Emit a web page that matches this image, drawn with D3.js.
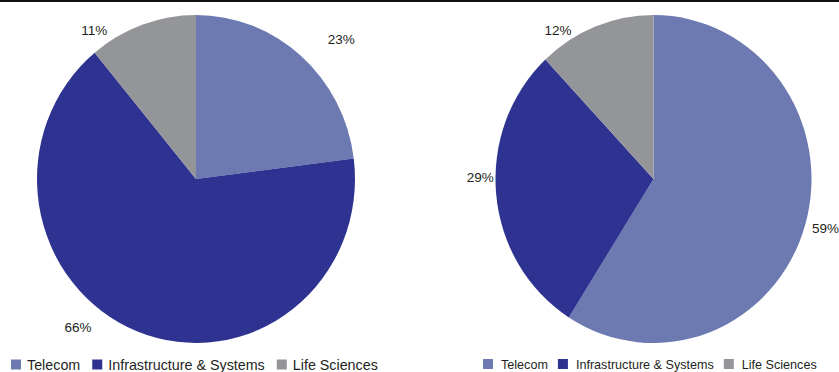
<!DOCTYPE html>
<html>
<head>
<meta charset="utf-8">
<script src="https://cdn.jsdelivr.net/npm/d3@7"></script>
<style>
  body { margin: 0; background: #fff; }
  svg { display: block; font-family: "Liberation Sans", Arial, sans-serif; }
</style>
</head>
<body>
<div id="chart"></div>
<script>
// data
var categories = ["Telecom", "Infrastructure & Systems", "Life Sciences"];
var colors = ["#6c7ab1", "#2e3392", "#939598"];
var leftValues = [23, 66, 11];
var rightValues = [59, 29, 12];

var width = 839,
	height = 372;

var svg = d3.select("#chart").append("svg")
	.attr("width", width)
	.attr("height", height);

// thin rule across the top
svg.append("rect")
	.attr("x", 0).attr("y", 0)
	.attr("width", width).attr("height", 2)
	.attr("fill", "#111");

var color = d3.scaleOrdinal().domain(categories).range(colors);

var pie = d3.pie()
	.sort(null)
	.value(function(d){ return d.value; });

//layout for each of the two pies
var charts = [
	{values: leftValues, cx: 196, cy: 179, rx: 159, ry: 164,
	 nudge: [[27, -1], [-52, -23], [-41, 25]],
	 legend: {x: 11, y: 369.5, size: 14.3, sq: 10, gap: 16, step: 12}},
	{values: rightValues, cx: 653.5, cy: 179, rx: 158, ry: 164,
	 nudge: [[1, -2], [4, -19], [-30, 23]],
	 legend: {x: 483, y: 369, size: 12.6, sq: 10, gap: 18, step: 10}}
];

charts.forEach(function(c){
	var data = categories.map(function(k, i){ return {key: k, value: c.values[i]}; });
	var arcs = pie(data);

	var arc = d3.arc().innerRadius(0).outerRadius(c.rx);

	var g = svg.append("g")
		.attr("transform", "translate(" + c.cx + "," + c.cy + ") scale(1," + (c.ry / c.rx) + ")");

	g.selectAll("path")
		.data(arcs).enter()
		.append("path")
		.attr("d", arc)
		.attr("fill", function(d){ return color(d.data.key); });

	// percent labels just outside the rim
	svg.append("g").selectAll("text")
		.data(arcs).enter()
		.append("text")
		.attr("x", function(d, i){
			var a = (d.startAngle + d.endAngle) / 2;
			return c.cx + (c.rx + 20) * Math.sin(a) + c.nudge[i][0];
		})
		.attr("y", function(d, i){
			var a = (d.startAngle + d.endAngle) / 2;
			return c.cy - (c.ry + 20) * Math.cos(a) + c.nudge[i][1];
		})
		.attr("text-anchor", "middle")
		.attr("dominant-baseline", "central")
		.attr("font-size", 13.5)
		.attr("fill", "#231f20")
		.text(function(d){ return d.data.value + "%"; });

	// legend
	var L = c.legend;
	var lg = svg.append("g");
	var x = L.x;
	categories.forEach(function(k){
		lg.append("rect")
			.attr("x", x)
			.attr("y", L.y - L.sq)
			.attr("width", L.sq)
			.attr("height", L.sq)
			.attr("fill", color(k));
		var t = lg.append("text")
			.attr("x", x + L.gap)
			.attr("y", L.y)
			.attr("font-size", L.size)
			.attr("fill", "#231f20")
			.text(k);
		x = x + L.gap + t.node().getComputedTextLength() + L.step;
	});
});
</script>
</body>
</html>
